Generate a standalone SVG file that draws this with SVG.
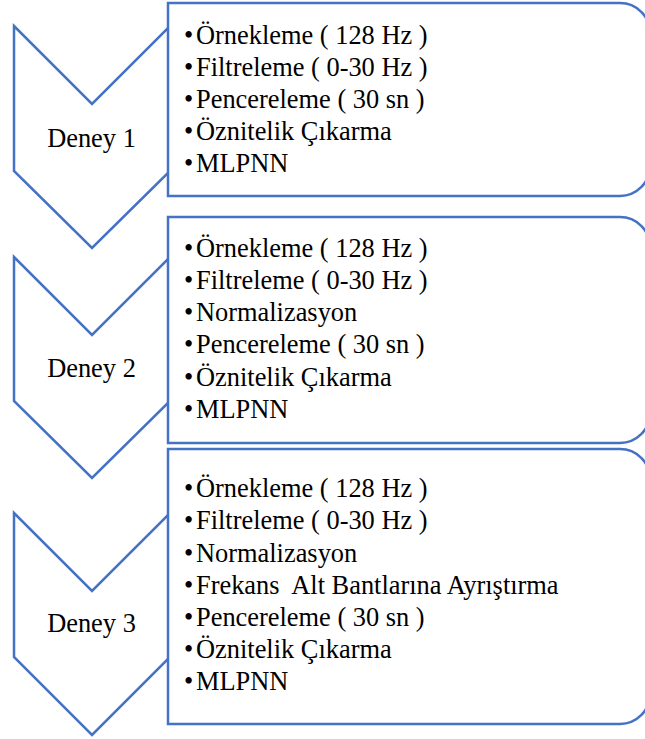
<svg xmlns="http://www.w3.org/2000/svg" width="645" height="739" viewBox="0 0 645 739">
<style>
.shape{fill:#fff;stroke:#4472C4;stroke-width:2.5;stroke-linejoin:miter}
text{font-family:'Liberation Serif','Times New Roman',serif;font-size:26.4px;fill:#000;white-space:pre}
.lbl{text-anchor:middle}
</style>
<rect width="645" height="739" fill="#fff"/>
<g id="connectors"></g>
<g id="deney1">
<polygon class="shape" points="14,26 92,104 170,26 170,171 92,248 14,171"/>
<text class="lbl" x="91.5" y="146.7">Deney 1</text>
</g>
<g id="box1">
<path class="shape" d="M168,3 H620 A30,30 0 0 1 650,33 V166 A30,30 0 0 1 620,196 H168 Z"/>
<text><tspan x="184" y="43.5">•</tspan><tspan x="196" y="43.5">Örnekleme ( 128 Hz )</tspan></text>
<text><tspan x="184" y="75.7">•</tspan><tspan x="196" y="75.7">Filtreleme ( 0-30 Hz )</tspan></text>
<text><tspan x="184" y="108">•</tspan><tspan x="196" y="108">Pencereleme ( 30 sn )</tspan></text>
<text><tspan x="184" y="140.2">•</tspan><tspan x="196" y="140.2">Öznitelik Çıkarma</tspan></text>
<text><tspan x="184" y="172.4">•</tspan><tspan x="196" y="172.4">MLPNN</tspan></text>
</g>
<g id="deney2">
<polygon class="shape" points="14,257 92,335 170,257 170,401 92,478 14,401"/>
<text class="lbl" x="91.5" y="376.7">Deney 2</text>
</g>
<g id="box2">
<path class="shape" d="M168,217 H620 A30,30 0 0 1 650,247 V413 A30,30 0 0 1 620,443 H168 Z"/>
<text><tspan x="184" y="256.5">•</tspan><tspan x="196" y="256.5">Örnekleme ( 128 Hz )</tspan></text>
<text><tspan x="184" y="288.8">•</tspan><tspan x="196" y="288.8">Filtreleme ( 0-30 Hz )</tspan></text>
<text><tspan x="184" y="321.1">•</tspan><tspan x="196" y="321.1">Normalizasyon</tspan></text>
<text><tspan x="184" y="353.4">•</tspan><tspan x="196" y="353.4">Pencereleme ( 30 sn )</tspan></text>
<text><tspan x="184" y="385.7">•</tspan><tspan x="196" y="385.7">Öznitelik Çıkarma</tspan></text>
<text><tspan x="184" y="418">•</tspan><tspan x="196" y="418">MLPNN</tspan></text>
</g>
<g id="deney3">
<polygon class="shape" points="14,513 92,591 170,513 170,657 92,735 14,657"/>
<text class="lbl" x="91.5" y="632.3">Deney 3</text>
</g>
<g id="box3">
<path class="shape" d="M168,449 H620 A30,30 0 0 1 650,479 V694 A30,30 0 0 1 620,724 H168 Z"/>
<text><tspan x="184" y="497.3">•</tspan><tspan x="196" y="497.3">Örnekleme ( 128 Hz )</tspan></text>
<text><tspan x="184" y="529.4">•</tspan><tspan x="196" y="529.4">Filtreleme ( 0-30 Hz )</tspan></text>
<text><tspan x="184" y="561.5">•</tspan><tspan x="196" y="561.5">Normalizasyon</tspan></text>
<text><tspan x="184" y="593.6">•</tspan><tspan x="196" y="593.6">Frekans  Alt Bantlarına Ayrıştırma</tspan></text>
<text><tspan x="184" y="625.7">•</tspan><tspan x="196" y="625.7">Pencereleme ( 30 sn )</tspan></text>
<text><tspan x="184" y="657.8">•</tspan><tspan x="196" y="657.8">Öznitelik Çıkarma</tspan></text>
<text><tspan x="184" y="690">•</tspan><tspan x="196" y="690">MLPNN</tspan></text>
</g>
</svg>
